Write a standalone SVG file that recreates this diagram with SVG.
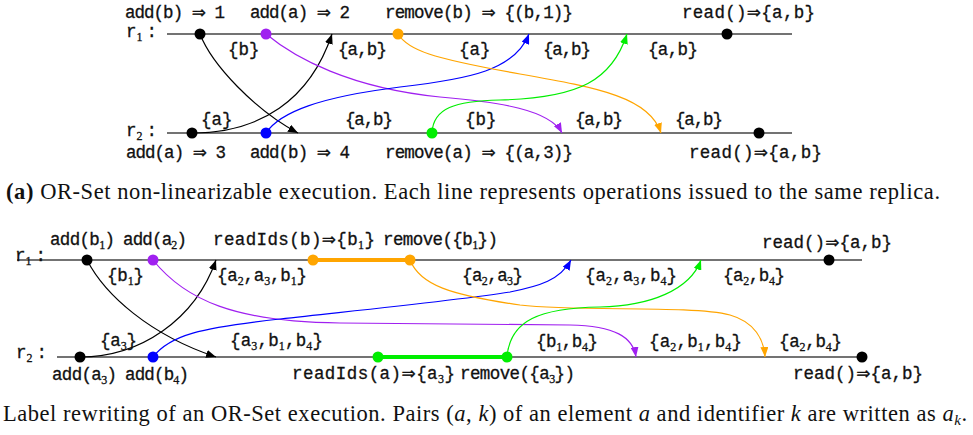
<svg xmlns="http://www.w3.org/2000/svg" width="973" height="435" viewBox="0 0 973 435">
<style>
.bg{fill:#fff}
.ln{stroke:#444;stroke-width:1.4}
.t{font-family:"Liberation Mono","DejaVu Sans Mono",monospace;font-size:17.5px;fill:#111;stroke:#111;stroke-width:0.3}
.s{font-family:"Liberation Serif",serif;font-size:12px}
.ar{font-family:"DejaVu Sans","DejaVu Serif",sans-serif;font-size:17px}
.cap{font-family:"Liberation Serif","Times New Roman",serif;font-size:22.5px;fill:#111}
.c{fill:none;stroke-width:1.2}
.k{fill:#000}.kc{stroke:#000}
.p{fill:#a020f0}.pc{stroke:#a020f0}
.o{fill:#ffa500}.oc{stroke:#ffa500}
.b{fill:#0000ff}.bc{stroke:#0000ff}
.g{fill:#00ee00}.gc{stroke:#00ee00}
</style>
<defs>
<marker id="mk" viewBox="0 0 10 8" refX="10" refY="4" markerWidth="10" markerHeight="8" markerUnits="userSpaceOnUse" orient="auto"><path d="M0,0 L10,4 L0,8 z" fill="#000"/></marker>
<marker id="mp" viewBox="0 0 10 8" refX="10" refY="4" markerWidth="10" markerHeight="8" markerUnits="userSpaceOnUse" orient="auto"><path d="M0,0 L10,4 L0,8 z" fill="#a020f0"/></marker>
<marker id="mo" viewBox="0 0 10 8" refX="10" refY="4" markerWidth="10" markerHeight="8" markerUnits="userSpaceOnUse" orient="auto"><path d="M0,0 L10,4 L0,8 z" fill="#ffa500"/></marker>
<marker id="mb" viewBox="0 0 10 8" refX="10" refY="4" markerWidth="10" markerHeight="8" markerUnits="userSpaceOnUse" orient="auto"><path d="M0,0 L10,4 L0,8 z" fill="#0000ff"/></marker>
<marker id="mg" viewBox="0 0 10 8" refX="10" refY="4" markerWidth="10" markerHeight="8" markerUnits="userSpaceOnUse" orient="auto"><path d="M0,0 L10,4 L0,8 z" fill="#00ee00"/></marker>
</defs>
<rect class="bg" width="973" height="435"/>

<!-- Panel (a) -->
<g id="a-timelines">
<line class="ln" x1="167" y1="34" x2="792" y2="34"/>
<line class="ln" x1="167" y1="133" x2="792" y2="133"/>
<text class="t" x="126" y="36.5">r<tspan class="s" dy="4">1</tspan><tspan dy="-4" dx="4">:</tspan></text>
<text class="t" x="126" y="136">r<tspan class="s" dy="4">2</tspan><tspan dy="-4" dx="4">:</tspan></text>
</g>
<g id="a-connectors">
<path class="c kc" d="M200,34 C212,65 255,110 298,133" marker-end="url(#mk)"/>
<path class="c kc" d="M192,133 C260,133 310,100 332,34" marker-end="url(#mk)"/>
<path class="c pc" d="M266,34 C295,58 350,88 440,97 C500,102 550,110 562,133" marker-end="url(#mp)"/>
<path class="c bc" d="M266,133 C280,112 320,97 400,87 C470,79 515,70 529,34" marker-end="url(#mb)"/>
<path class="c oc" d="M398,34 C408,50 430,58 520,74 C600,88 650,98 661,133" marker-end="url(#mo)"/>
<path class="c gc" d="M432,133 C433,108 455,101 500,100 C580,98 612,80 627,34" marker-end="url(#mg)"/>
</g>
<g id="a-r1-addb"><circle class="k" cx="200" cy="34" r="5.5"/><text class="t" x="125" y="17.5" textLength="100">add(b) <tspan class="ar">⇒</tspan> 1</text></g>
<g id="a-r1-adda"><circle class="p" cx="266" cy="34" r="5.5"/><text class="t" x="250" y="17.5" textLength="100">add(a) <tspan class="ar">⇒</tspan> 2</text></g>
<g id="a-r1-removeb"><circle class="o" cx="398" cy="34" r="5.5"/><text class="t" x="385" y="17.5" textLength="188">remove(b) <tspan class="ar">⇒</tspan> {(b,1)}</text></g>
<g id="a-r1-read"><circle class="k" cx="727" cy="34" r="5.5"/><text class="t" x="682" y="17.5" textLength="133">read()<tspan class="ar">⇒</tspan>{a,b}</text></g>
<g id="a-r2-adda"><circle class="k" cx="192" cy="133" r="5.5"/><text class="t" x="126" y="158" textLength="100">add(a) <tspan class="ar">⇒</tspan> 3</text></g>
<g id="a-r2-addb"><circle class="b" cx="266" cy="133" r="5.5"/><text class="t" x="250" y="158" textLength="100">add(b) <tspan class="ar">⇒</tspan> 4</text></g>
<g id="a-r2-removea"><circle class="g" cx="432" cy="133" r="5.5"/><text class="t" x="385" y="158" textLength="188">remove(a) <tspan class="ar">⇒</tspan> {(a,3)}</text></g>
<g id="a-r2-read"><circle class="k" cx="759" cy="133" r="5.5"/><text class="t" x="689" y="158" textLength="133">read()<tspan class="ar">⇒</tspan>{a,b}</text></g>
<g id="a-states">
<text class="t" x="228" y="55">{b}</text>
<text class="t" x="338" y="55" textLength="49">{a,b}</text>
<text class="t" x="459" y="55">{a}</text>
<text class="t" x="543" y="55" textLength="48">{a,b}</text>
<text class="t" x="648" y="55" textLength="50">{a,b}</text>
<text class="t" x="201" y="125">{a}</text>
<text class="t" x="345" y="125" textLength="48">{a,b}</text>
<text class="t" x="465" y="125">{b}</text>
<text class="t" x="575" y="125" textLength="48">{a,b}</text>
<text class="t" x="675" y="125" textLength="48">{a,b}</text>
</g>
<text class="cap" x="6" y="199" textLength="934"><tspan font-weight="bold">(a)</tspan> OR-Set non-linearizable execution. Each line represents operations issued to the same replica.</text>

<!-- Panel (b) -->
<g id="b-timelines">
<line class="ln" x1="17" y1="260" x2="862" y2="260"/>
<line class="ln" x1="57" y1="357" x2="862" y2="357"/>
<text class="t" x="15" y="261">r<tspan class="s" dy="4">1</tspan><tspan dy="-4" dx="4">:</tspan></text>
<text class="t" x="16" y="358">r<tspan class="s" dy="4">2</tspan><tspan dy="-4" dx="4">:</tspan></text>
<line x1="313" y1="260" x2="410" y2="260" stroke="#ffa500" stroke-width="4"/>
<line x1="378" y1="357" x2="507" y2="357" stroke="#00ee00" stroke-width="4"/>
</g>
<g id="b-connectors">
<path class="c kc" d="M87,260 C105,295 150,335 216,357" marker-end="url(#mk)"/>
<path class="c kc" d="M80,357 C140,357 195,320 216,260" marker-end="url(#mk)"/>
<path class="c pc" d="M153,260 C185,300 235,322 340,323 L570,325 C615,326 633,337 636,357" marker-end="url(#mp)"/>
<path class="c bc" d="M153,357 C170,335 200,328 280,319 C380,308 460,300 510,292 C540,286 560,280 571,260" marker-end="url(#mb)"/>
<path class="c oc" d="M410,260 C420,285 450,295 520,305 C580,312 690,305 730,315 C755,322 764,340 765,357" marker-end="url(#mo)"/>
<path class="c gc" d="M507,357 C510,320 540,308 600,307 C650,306 690,290 701,260" marker-end="url(#mg)"/>
</g>
<g id="b-r1-addb1"><circle class="k" cx="87" cy="260" r="5.5"/><text class="t" x="50" y="245" textLength="65">add(b<tspan class="s" dy="4">1</tspan><tspan dy="-4">)</tspan></text></g>
<g id="b-r1-adda2"><circle class="p" cx="153" cy="260" r="5.5"/><text class="t" x="123" y="245" textLength="64">add(a<tspan class="s" dy="4">2</tspan><tspan dy="-4">)</tspan></text></g>
<g id="b-r1-readids"><circle class="o" cx="313" cy="260" r="5.5"/><text class="t" x="213" y="245" textLength="162">readIds(b)<tspan class="ar">⇒</tspan>{b<tspan class="s" dy="4">1</tspan><tspan dy="-4">}</tspan></text></g>
<g id="b-r1-remove"><circle class="o" cx="410" cy="260" r="5.5"/><text class="t" x="383" y="245" textLength="115">remove({b<tspan class="s" dy="4">1</tspan><tspan dy="-4">})</tspan></text></g>
<g id="b-r1-read"><circle class="k" cx="829" cy="260" r="5.5"/><text class="t" x="762" y="248" textLength="130">read()<tspan class="ar">⇒</tspan>{a,b}</text></g>
<g id="b-r2-adda3"><circle class="k" cx="80" cy="357" r="5.5"/><text class="t" x="52" y="380" textLength="65">add(a<tspan class="s" dy="4">3</tspan><tspan dy="-4">)</tspan></text></g>
<g id="b-r2-addb4"><circle class="b" cx="153" cy="357" r="5.5"/><text class="t" x="125" y="380" textLength="64">add(b<tspan class="s" dy="4">4</tspan><tspan dy="-4">)</tspan></text></g>
<g id="b-r2-readids"><circle class="g" cx="378" cy="357" r="5.5"/><text class="t" x="292" y="379" textLength="163">readIds(a)<tspan class="ar">⇒</tspan>{a<tspan class="s" dy="4">3</tspan><tspan dy="-4">}</tspan></text></g>
<g id="b-r2-remove"><circle class="g" cx="507" cy="357" r="5.5"/><text class="t" x="460" y="379" textLength="115">remove({a<tspan class="s" dy="4">3</tspan><tspan dy="-4">})</tspan></text></g>
<g id="b-r2-read"><circle class="k" cx="862" cy="357" r="5.5"/><text class="t" x="793" y="379" textLength="130">read()<tspan class="ar">⇒</tspan>{a,b}</text></g>
<g id="b-states">
<text class="t" x="107" y="281" textLength="37">{b<tspan class="s" dy="4">1</tspan><tspan dy="-4">}</tspan></text>
<text class="t" x="217" y="281" textLength="90">{a<tspan class="s" dy="4">2</tspan><tspan dy="-4">,a</tspan><tspan class="s" dy="4">3</tspan><tspan dy="-4">,b</tspan><tspan class="s" dy="4">1</tspan><tspan dy="-4">}</tspan></text>
<text class="t" x="462" y="281" textLength="61">{a<tspan class="s" dy="4">2</tspan><tspan dy="-4">,a</tspan><tspan class="s" dy="4">3</tspan><tspan dy="-4">}</tspan></text>
<text class="t" x="585" y="281" textLength="92">{a<tspan class="s" dy="4">2</tspan><tspan dy="-4">,a</tspan><tspan class="s" dy="4">3</tspan><tspan dy="-4">,b</tspan><tspan class="s" dy="4">4</tspan><tspan dy="-4">}</tspan></text>
<text class="t" x="723" y="281" textLength="62">{a<tspan class="s" dy="4">2</tspan><tspan dy="-4">,b</tspan><tspan class="s" dy="4">4</tspan><tspan dy="-4">}</tspan></text>
<text class="t" x="100" y="346" textLength="37">{a<tspan class="s" dy="4">3</tspan><tspan dy="-4">}</tspan></text>
<text class="t" x="230" y="346" textLength="93">{a<tspan class="s" dy="4">3</tspan><tspan dy="-4">,b</tspan><tspan class="s" dy="4">1</tspan><tspan dy="-4">,b</tspan><tspan class="s" dy="4">4</tspan><tspan dy="-4">}</tspan></text>
<text class="t" x="536" y="347" textLength="62">{b<tspan class="s" dy="4">1</tspan><tspan dy="-4">,b</tspan><tspan class="s" dy="4">4</tspan><tspan dy="-4">}</tspan></text>
<text class="t" x="649" y="347" textLength="93">{a<tspan class="s" dy="4">2</tspan><tspan dy="-4">,b</tspan><tspan class="s" dy="4">1</tspan><tspan dy="-4">,b</tspan><tspan class="s" dy="4">4</tspan><tspan dy="-4">}</tspan></text>
<text class="t" x="779" y="347" textLength="63">{a<tspan class="s" dy="4">2</tspan><tspan dy="-4">,b</tspan><tspan class="s" dy="4">4</tspan><tspan dy="-4">}</tspan></text>
</g>
<text class="cap" x="3" y="421" textLength="964">Label rewriting of an OR-Set execution. Pairs (<tspan font-style="italic">a</tspan>, <tspan font-style="italic">k</tspan>) of an element <tspan font-style="italic">a</tspan> and identifier <tspan font-style="italic">k</tspan> are written as <tspan font-style="italic">a</tspan><tspan font-style="italic" font-size="15px" dy="4">k</tspan><tspan dy="-4">.</tspan></text>
</svg>
